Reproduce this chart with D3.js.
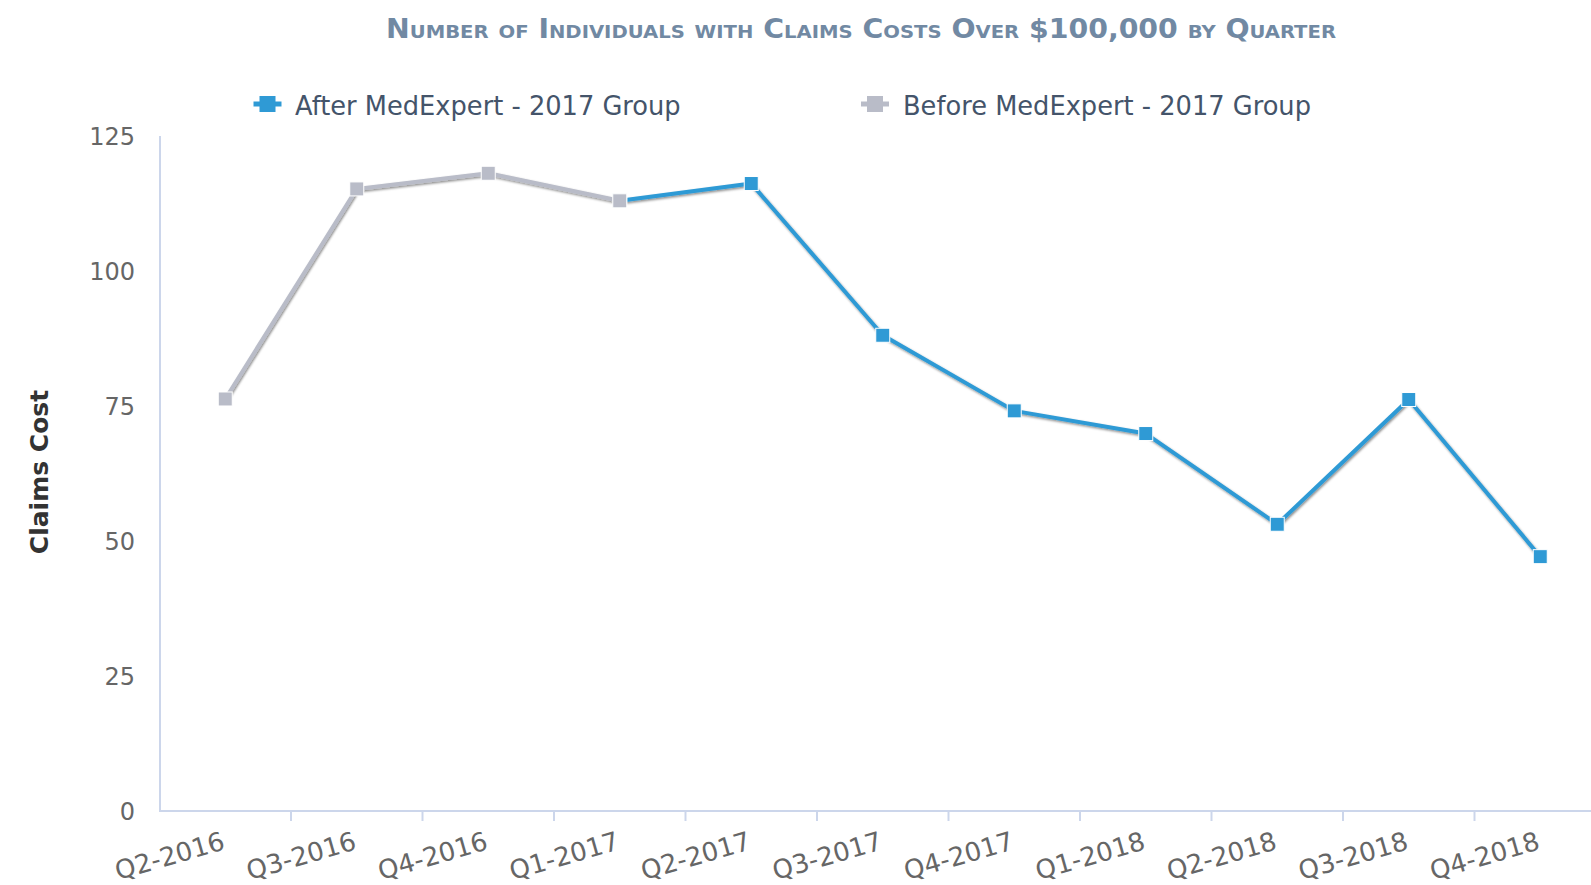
<!DOCTYPE html>
<html>
<head>
<meta charset="utf-8">
<script src="https://d3js.org/d3.v7.min.js"></script>
<style>
  body { margin: 0; background: #fff; }
  svg { display: block; font-family: "DejaVu Sans", Verdana, sans-serif; }
  .axis-line { stroke: #ccd6eb; stroke-width: 2; fill: none; }
  .ylab { fill: #666; font-size: 24px; }
  .xlab { fill: #666; font-size: 26px; }
  .legend-text { fill: #44546a; font-size: 25.7px; }
</style>
</head>
<body>
<div id="chart"></div>
<script>
// data
var quarters = ["Q2-2016", "Q3-2016", "Q4-2016", "Q1-2017", "Q2-2017", "Q3-2017",
                "Q4-2017", "Q1-2018", "Q2-2018", "Q3-2018", "Q4-2018"];
var afterValues  = [null, null, null, 113.0, 116.2, 88.1, 74.1, 69.9, 53.1, 76.2, 47.1];
var beforeValues = [76.3, 115.2, 118.1, 113.0, null, null, null, null, null, null, null];
var yTicks = [0, 25, 50, 75, 100, 125];
var seriesNames = ["After MedExpert - 2017 Group", "Before MedExpert - 2017 Group"];
var seriesColors = ["#2f9ad5", "#b9bcc8"];

var w = 1591, h = 885;

var svg = d3.select("#chart").append("svg")
  .attr("width", w)
  .attr("height", h);

var defs = svg.append("defs");
defs.append("filter").attr("id", "shadow")
  .attr("x", "-10%").attr("y", "-10%").attr("width", "120%").attr("height", "120%")
  .append("feDropShadow")
  .attr("dx", 1).attr("dy", 1.5).attr("stdDeviation", 1.2)
  .attr("flood-color", "#000").attr("flood-opacity", 0.45);

// scales
var x = d3.scaleBand().domain(quarters).range([159.5, 1606]);
var y = d3.scaleLinear().domain([0, 125]).range([811, 136]);
var cx = function (q) { return x(q) + x.bandwidth() / 2; };

// title
svg.append("text")
  .attr("x", 861).attr("y", 38)
  .attr("text-anchor", "middle")
  .attr("textLength", 950).attr("lengthAdjust", "spacingAndGlyphs")
  .style("font-family", "'Liberation Sans Narrow', 'DejaVu Sans Condensed', sans-serif")
  .style("font-weight", "bold")
  .style("font-variant", "small-caps")
  .style("font-size", "26px")
  .style("fill", "#7189a3")
  .text("Number of Individuals with Claims Costs Over $100,000 by Quarter");

// legend
var legendPos = [[267.5, 295], [875, 903]];
seriesNames.forEach(function (name, i) {
  var g = svg.append("g");
  g.append("line")
    .attr("x1", legendPos[i][0] - 14).attr("x2", legendPos[i][0] + 14)
    .attr("y1", 104).attr("y2", 104)
    .attr("stroke", seriesColors[i]).attr("stroke-width", 5);
  g.append("rect")
    .attr("x", legendPos[i][0] - 8).attr("y", 96)
    .attr("width", 16).attr("height", 16)
    .attr("fill", seriesColors[i]);
  g.append("text")
    .attr("class", "legend-text")
    .attr("x", legendPos[i][1]).attr("y", 115)
    .text(name);
});

// y axis
svg.append("line").attr("class", "axis-line")
  .attr("x1", 160).attr("x2", 160).attr("y1", 136).attr("y2", 811);
svg.selectAll(".ylab").data(yTicks).enter().append("text")
  .attr("class", "ylab")
  .attr("x", 135)
  .attr("y", function (d) { return y(d); })
  .attr("dy", "0.36em")
  .attr("text-anchor", "end")
  .text(function (d) { return d; });

svg.append("text")
  .attr("transform", "translate(48," + 472 + ") rotate(-90)")
  .attr("text-anchor", "middle")
  .style("font-weight", "bold")
  .style("font-size", "25px")
  .style("fill", "#333")
  .text("Claims Cost");

// x axis
svg.append("line").attr("class", "axis-line")
  .attr("x1", 159).attr("x2", w).attr("y1", 811).attr("y2", 811);
svg.selectAll(".xtick").data(quarters.slice(1)).enter().append("line")
  .attr("class", "axis-line xtick")
  .attr("x1", function (d) { return x(d); })
  .attr("x2", function (d) { return x(d); })
  .attr("y1", 811).attr("y2", 821);
svg.selectAll(".xlab").data(quarters).enter().append("text")
  .attr("class", "xlab")
  .attr("text-anchor", "end")
  .attr("transform", function (d) { return "translate(" + (cx(d) + 1) + ",849) rotate(-16)"; })
  .text(function (d) { return d; });

// series: after first, before drawn on top
var line = d3.line()
  .defined(function (d) { return d.v != null; })
  .x(function (d) { return cx(d.q); })
  .y(function (d) { return y(d.v); });

[afterValues, beforeValues].forEach(function (vals, i) {
  var pts = quarters.map(function (q, j) { return { q: q, v: vals[j] }; });
  svg.append("path")
    .datum(pts)
    .attr("d", line)
    .attr("fill", "none")
    .attr("stroke", seriesColors[i])
    .attr("stroke-width", 4)
    .attr("stroke-linejoin", "round")
    .attr("filter", "url(#shadow)");
  svg.selectAll(".m" + i)
    .data(pts.filter(function (d) { return d.v != null; }))
    .enter().append("rect")
    .attr("class", "m" + i)
    .attr("x", function (d) { return cx(d.q) - 7; })
    .attr("y", function (d) { return y(d.v) - 7; })
    .attr("width", 14).attr("height", 14)
    .attr("fill", seriesColors[i])
    .attr("stroke", "#fff").attr("stroke-width", 1);
});
</script>
</body>
</html>
